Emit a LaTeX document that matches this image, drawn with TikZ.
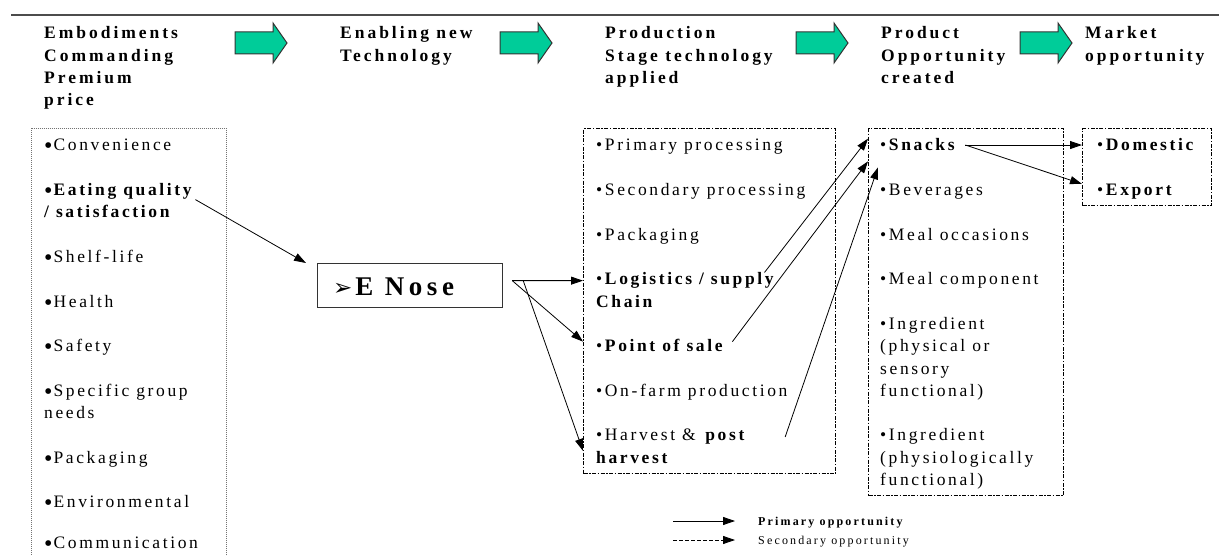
\documentclass[tikz,border=0pt]{standalone}
\usepackage{fontspec}
\setmainfont{Liberation Serif}
\newfontfamily\itemfont[LetterSpace=15]{Liberation Serif}
\newfontfamily\headfont[LetterSpace=17]{Liberation Serif}
\newfontfamily\legfont[LetterSpace=18]{Liberation Serif}
\newfontfamily\symfont{DejaVu Sans}
\usetikzlibrary{arrows.meta,calc}
\definecolor{flowgreen}{RGB}{0,204,153}
\newcommand{\smbul}{•}
\newcommand{\lgbul}{{\fontsize{24}{22}\selectfont\raisebox{-3pt}{•}}\hspace{1pt}}
\begin{document}
\begin{tikzpicture}[x=1pt,y=-1pt,
  hd/.style={anchor=base west, inner sep=0pt, font=\headfont\bfseries\fontsize{17.5}{22}\selectfont},
  it/.style={anchor=base west, inner sep=0pt, font=\itemfont\fontsize{17.5}{22}\selectfont},
  lg/.style={anchor=base west, inner sep=0pt, font=\legfont\fontsize{12}{14}\selectfont},
  dotbox/.style={draw=black!55, line width=0.8pt, dash pattern=on 1pt off 1pt, anchor=north west, inner sep=0pt},
  dashbox/.style={draw=black, line width=1.3pt, dash pattern=on 4pt off 1.5pt on 1.5pt off 1.5pt, anchor=north west, inner sep=0pt},
  conn/.style={-{Triangle[length=12pt,width=8pt]}, line width=0.8pt},
  flow/.pic={\draw[fill=flowgreen, draw=black!80, line width=1pt]
     (0,9) -- (38,9) -- (38,0) -- (52,20) -- (38,40) -- (38,31) -- (0,31) -- cycle;}
]
\useasboundingbox (0,0) rectangle (1219,556);

% top rule
\draw[black!70, line width=1.3pt] (11,15) -- (1219,15);

% column headings
\node[hd] (hA1) at (44,39) {Embodiments};
\node[hd] (hA2) at (44,61.5) {Commanding};
\node[hd] (hA3) at (44,84) {Premium};
\node[hd] (hA4) at (44,106) {price};
\node[hd] (hB1) at (340,39) {Enabling new};
\node[hd] (hB2) at (340,61.5) {Technology};
\node[hd] (hC1) at (605,39) {Production};
\node[hd] (hC2) at (605,61.5) {Stage technology};
\node[hd] (hC3) at (605,84) {applied};
\node[hd] (hD1) at (881,39) {Product};
\node[hd] (hD2) at (881,61.5) {Opportunity};
\node[hd] (hD3) at (881,84) {created};
\node[hd] (hE1) at (1085,39) {Market};
\node[hd] (hE2) at (1085,61.5) {opportunity};

% green flow arrows between headings
\pic at (235,23) {flow};
\pic at (500,23) {flow};
\pic at (796,23) {flow};
\pic at (1020,23) {flow};

% boxes
\node[dotbox, minimum width=195pt, minimum height=460pt] (embox) at (31,128) {};
\node[dashbox, minimum width=252pt, minimum height=345pt] (prod) at (583,128) {};
\node[dashbox, minimum width=195pt, minimum height=367pt] (prodop) at (868,128) {};
\node[dashbox, minimum width=129pt, minimum height=77pt] (mkt) at (1082,128) {};

% embodiments
\node[it] (conv) at (44,151) {\lgbul Convenience};
\node[it] (eat) at (44,195.6) {\lgbul\textbf{Eating quality}};
\node[it] (sat) at (44,217.9) {\textbf{/ satisfaction}};
\node[it] (shelf) at (44,262.5) {\lgbul Shelf-life};
\node[it] (health) at (44,307.1) {\lgbul Health};
\node[it] (safety) at (44,351.7) {\lgbul Safety};
\node[it] (spec) at (44,396.3) {\lgbul Specific group};
\node[it] (needs) at (44,418.6) {needs};
\node[it] (pack) at (44,463.2) {\lgbul Packaging};
\node[it] (env) at (44,507.8) {\lgbul Environmental};
\node[it] (comm) at (44,548.5) {\lgbul Communication};

% enabling technology
\node[draw=black!80, line width=1.2pt, minimum width=185pt, minimum height=44pt, anchor=north west, inner sep=0pt] (enose) at (317,263) {};
\node[anchor=base west, inner sep=0pt, font=\headfont\bfseries\fontsize{27}{28}\selectfont] (enoset) at (333,296) {{\symfont\fontsize{23}{24}\selectfont ➢}\hspace{3pt}E Nose};

% production stages
\node[it] (prim) at (596,151) {\smbul Primary processing};
\node[it] (sec) at (596,195.6) {\smbul Secondary processing};
\node[it] (ppack) at (596,240.2) {\smbul Packaging};
\node[it] (log) at (596,284.8) {\smbul\textbf{Logistics / supply}};
\node[it] (chain) at (596,307.1) {\textbf{Chain}};
\node[it] (pos) at (596,351.7) {\smbul\textbf{Point of sale}};
\node[it] (farm) at (596,396.3) {\smbul On-farm production};
\node[it] (harvA) at (596,440.9) {\smbul Harvest \& \textbf{post}};
\node[it] (harvB) at (596,463.2) {\textbf{harvest}};

% product opportunities
\node[it] (snk) at (880,151) {\smbul\textbf{Snacks}};
\node[it] (bev) at (880,195.6) {\smbul Beverages};
\node[it] (occ) at (880,240.2) {\smbul Meal occasions};
\node[it] (comp) at (880,284.8) {\smbul Meal component};
\node[it] (ingA1) at (880,329.4) {\smbul Ingredient};
\node[it] (ingA2) at (880,351.7) {(physical or};
\node[it] (ingA3) at (880,374) {sensory};
\node[it] (ingA4) at (880,396.3) {functional)};
\node[it] (ingB1) at (880,440.9) {\smbul Ingredient};
\node[it] (ingB2) at (880,463.2) {(physiologically};
\node[it] (ingB3) at (880,485.5) {functional)};

% markets
\node[it] (dom) at (1097,151) {\smbul\textbf{Domestic}};
\node[it] (exp) at (1097,195.6) {\smbul\textbf{Export}};

% connectors
\draw[conn] ([shift={(1pt,-4pt)}]eat.base east) -- ([xshift=-11pt]enose.north west);

\coordinate (fork) at ([shift={(9pt,5pt)}]enose.east);
\coordinate (forkb) at ([shift={(20pt,5pt)}]enose.east);
\draw[conn] (fork) -- (prod.west |- log);
\draw[conn] (fork) -- ($(prod.west |- pos)+(0,-4)$);
\draw[conn] (forkb) -- (prod.west |- harvB.north);

\draw[conn] ([xshift=-12pt]log.north east) -- (prodop.west |- snk.north);
\draw[conn] ([shift={(7pt,4pt)}]pos.east) -- ($(prodop.west |- snk.south)+(0,10)$);
\draw[conn] ([shift={(38pt,4pt)}]harvA.base east) -- ($(prodop.west |- snk.south)+(10,16)$);

\draw[conn] ([xshift=8pt]snk.east) -- (mkt.west |- dom);
\draw[conn] ([xshift=8pt]snk.east) -- (mkt.west |- exp.north);

% legend
\coordinate (lpA) at (673,521);
\coordinate (lpB) at (735,521);
\coordinate (lsA) at (673,540);
\coordinate (lsB) at (735,540);
\draw[conn] (lpA) -- (lpB);
\draw[conn, dash pattern=on 4pt off 2pt] (lsA) -- (lsB);
\node[lg, font=\legfont\bfseries\fontsize{12}{14}\selectfont] (lgp) at (758,525) {Primary opportunity};
\node[lg] (lgs) at (758,544) {Secondary opportunity};
\end{tikzpicture}
\end{document}
